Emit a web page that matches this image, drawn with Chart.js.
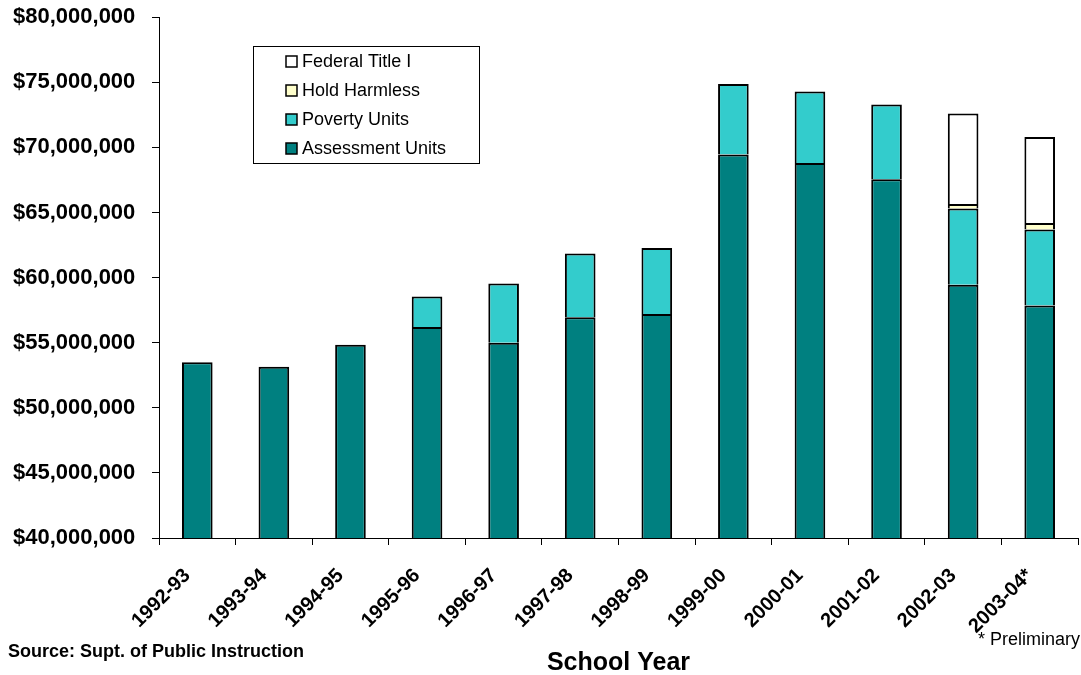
<!DOCTYPE html>
<html>
<head>
<meta charset="utf-8">
<script src="https://cdn.jsdelivr.net/npm/chart.js@4.4.1/dist/chart.umd.min.js"></script>
<style>
  html, body { margin: 0; padding: 0; background: #ffffff; }
  #wrap { width: 1081px; height: 675px; position: relative; }
</style>
</head>
<body>
<div id="wrap"><canvas id="c" width="1081" height="675"></canvas></div>
<script>
const categories = ["1992-93","1993-94","1994-95","1995-96","1996-97","1997-98","1998-99","1999-00","2000-01","2001-02","2002-03","2003-04*"];
const assessmentUnits = [53500000, 53150000, 54850000, 56200000, 55000000, 56950000, 57200000, 69450000, 68800000, 67550000, 59450000, 57850000];
const povertyUnits    = [null, null, null, 2350000, 4550000, 4900000, 5070000, 5420000, 5500000, 5750000, 5850000, 5850000];
const holdHarmless    = [null, null, null, null, null, null, null, null, null, null, 350000, 500000];
const federalTitleI   = [null, null, null, null, null, null, null, null, null, null, 6950000, 6600000];
const yTickMin = 40000000, yTickMax = 80000000, yTickStep = 5000000;

const FONT = "'Liberation Sans', Arial, sans-serif";

const legendItems = [
  { label: "Federal Title I", color: "#FFFFFF" },
  { label: "Hold Harmless", color: "#FFFFCC" },
  { label: "Poverty Units", color: "#33CCCC" },
  { label: "Assessment Units", color: "#008080" }
];

const extrasPlugin = {
  id: 'extras',
  afterDraw(chart) {
    const ctx = chart.ctx;
    ctx.save();
    // legend
    ctx.strokeStyle = '#000';
    ctx.lineWidth = 1;
    ctx.fillStyle = '#fff';
    ctx.fillRect(253, 46, 227, 118);
    ctx.strokeRect(253.5, 46.5, 226, 117);
    const ys = [62, 91, 120, 149];
    legendItems.forEach((it, i) => {
      ctx.fillStyle = it.color;
      ctx.fillRect(286, ys[i] - 6, 11, 11);
      ctx.lineWidth = 1.5;
      ctx.strokeStyle = '#000';
      ctx.strokeRect(286, ys[i] - 6, 11, 11);
      ctx.fillStyle = '#000';
      ctx.font = "18px " + FONT;
      ctx.textAlign = 'left';
      ctx.textBaseline = 'middle';
      ctx.fillText(it.label, 302, ys[i] + 0.5);
    });
    // source
    ctx.fillStyle = '#000';
    ctx.font = "bold 18px " + FONT;
    ctx.textAlign = 'left';
    ctx.textBaseline = 'middle';
    ctx.fillText("Source: Supt. of Public Instruction", 8, 652);
    ctx.font = "18px " + FONT;
    ctx.textAlign = 'right';
    ctx.fillText("* Preliminary", 1080, 640);
    ctx.restore();
  }
};

const common = { borderColor: '#000000', borderWidth: 2, barPercentage: 0.8, categoryPercentage: 0.5, inflateAmount: 0 };

new Chart(document.getElementById('c'), {
  type: 'bar',
  data: {
    labels: categories,
    datasets: [
      Object.assign({ label: 'Assessment Units', data: assessmentUnits, backgroundColor: '#008080', borderSkipped: false }, common),
      Object.assign({ label: 'Poverty Units', data: povertyUnits, backgroundColor: '#33CCCC', borderSkipped: 'start' }, common),
      Object.assign({ label: 'Hold Harmless', data: holdHarmless, backgroundColor: '#FFFFCC', borderSkipped: 'start' }, common),
      Object.assign({ label: 'Federal Title I', data: federalTitleI, backgroundColor: '#FFFFFF', borderSkipped: 'start' }, common)
    ]
  },
  options: {
    responsive: false,
    animation: false,
    devicePixelRatio: 1,
    layout: { padding: { top: 4, right: 3, left: 13, bottom: 0 } },
    plugins: { legend: { display: false }, tooltip: { enabled: false } },
    scales: {
      x: {
        stacked: true,
        grid: { drawOnChartArea: false, tickLength: 7, color: '#000', offset: true },
        border: { color: '#000', width: 1 },
        ticks: { color: '#000', font: { family: FONT, size: 20, weight: 'bold' }, minRotation: 45, maxRotation: 45, padding: 19, labelOffset: -10, autoSkip: false },
        title: { display: true, text: 'School Year', color: '#000', font: { family: FONT, size: 25, weight: 'bold' }, padding: { top: 0, bottom: -3 } },
        afterFit(scale) { scale.height = 137; }
      },
      y: {
        stacked: true,
        min: yTickMin,
        max: yTickMax,
        grid: { drawOnChartArea: false, tickLength: 7, color: '#000' },
        border: { color: '#000', width: 1 },
        ticks: {
          stepSize: yTickStep,
          color: '#000',
          padding: 4,
          crossAlign: 'far',
          font: { family: FONT, size: 22, weight: 'bold' },
          callback: (v) => '$' + Number(v).toLocaleString('en-US')
        },
        afterFit(scale) { scale.width = 146; }
      }
    }
  },
  plugins: [extrasPlugin]
});
</script>
</body>
</html>
